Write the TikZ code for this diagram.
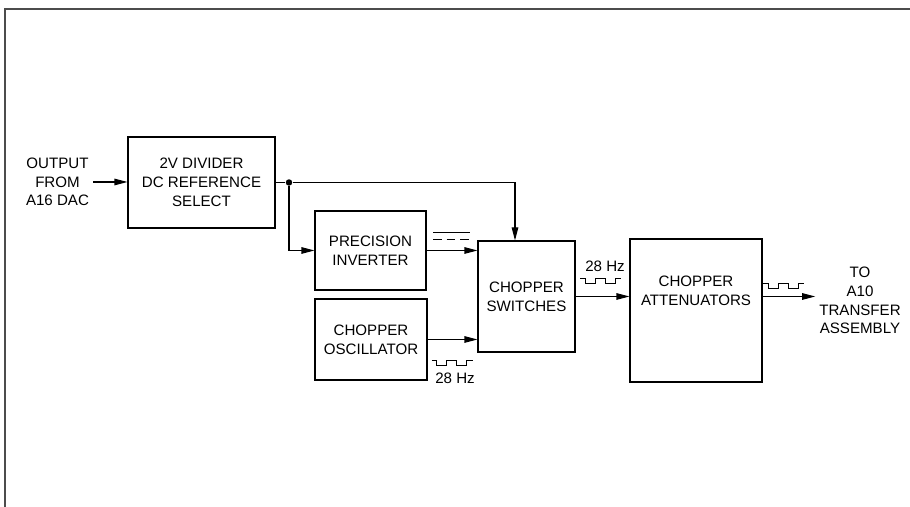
\documentclass[tikz,border=0pt]{standalone}
\usepackage{fontspec}
\setmainfont{Liberation Sans}
\usetikzlibrary{arrows.meta,calc,positioning}
\tikzset{
  block/.style={draw,rectangle,line width=0.6pt,align=center,inner sep=1pt},
  pickoff/.style={circle,fill,inner sep=1.3pt},
  tag/.style={align=center,inner sep=2pt},
  frame/.style={draw=black!70,line width=1.1pt},
  sqwave/.pic={\draw[line width=0.5pt] (0,0) -- ++(0.1,0) -- ++(0,-0.1) -- ++(0.2,0) -- ++(0,0.1)
      -- ++(0.2,0) -- ++(0,-0.1) -- ++(0.2,0) -- ++(0,0.1) -- ++(0.12,0);}
}

\begin{document}
\begin{tikzpicture}[>={Triangle[length=2.6mm,width=1.3mm]},line width=0.6pt,font=\fontsize{8.6}{10.7}\selectfont]
  \useasboundingbox (0,0) rectangle (18.2,10.14);
  \draw[frame] (0.1,0) -- (0.1,9.96) -- (18.2,9.96);

  \node[tag] (src) at (1.15,6.5) {OUTPUT\\FROM\\A16 DAC};
  \node[block,minimum width=2.94cm,minimum height=1.82cm] (div) at (4.03,6.49) {2V DIVIDER\\DC REFERENCE\\SELECT};
  \node[block,minimum width=2.22cm,minimum height=1.58cm] (inv) at (7.41,5.13) {PRECISION\\INVERTER};
  \node[block,minimum width=2.24cm,minimum height=1.62cm] (osc) at (7.42,3.35) {CHOPPER\\OSCILLATOR};
  \node[block,minimum width=1.94cm,minimum height=2.22cm] (sw) at (10.53,4.21) {CHOPPER\\SWITCHES};
  \node[block,minimum width=2.64cm,minimum height=2.86cm] (att) at (13.92,3.93) {};
  \node[tag] (attlbl) at (13.92,4.32) {CHOPPER\\ATTENUATORS};
  \node[tag] (dst) at (17.2,4.13) {TO\\A10\\TRANSFER\\ASSEMBLY};
  \node[pickoff] (junc) at (5.78,6.49) {};
  \coordinate (swin) at (10.3,6.49);
  \coordinate (aout) at (sw.east -| att.east);

  \draw[->] (src.east) -- (src.east -| div.west);
  \draw[->] (div.east) -- (junc) -- (swin) -- (swin |- sw.north);
  \draw[->] (junc) |- (inv.west);
  \draw[->] (inv.east) -- (inv.east -| sw.west);
  \draw[->] (osc.east) -- (osc.east -| sw.west);
  \draw[->] (sw.east) -- (sw.east -| att.west);
  \draw[->] (aout) -- (aout -| dst.west);

  % signal shapes on the lines
  \draw[line width=0.5pt] (8.66,5.494) -- (9.4,5.494);
  \draw[line width=0.5pt,dash pattern=on 0.17cm off 0.1cm] (8.66,5.354) -- (9.4,5.354);
  \pic at (8.63,2.93) {sqwave};
  \node (hza) at (9.1,2.57) {28 Hz};
  \pic at (11.6,4.57) {sqwave};
  \node (hzb) at (12.1,4.81) {28 Hz};
  \pic at (15.26,4.47) {sqwave};
\end{tikzpicture}
\end{document}
